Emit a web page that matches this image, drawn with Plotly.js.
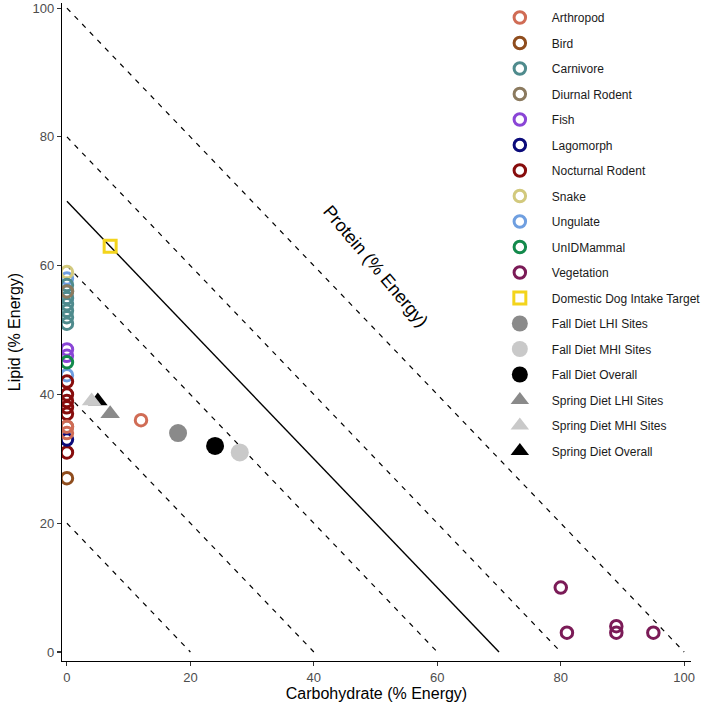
<!DOCTYPE html>
<html>
<head>
<meta charset="utf-8">
<script src="https://cdn.plot.ly/plotly-3.0.1.min.js"></script>
<style>
  html, body { margin: 0; padding: 0; background: #ffffff; }
  #chart { width: 709px; height: 707px; }
</style>
</head>
<body>
<div id="chart"></div>
<script>
// Macronutrient composition (% of energy) of prey groups and coyote diets
const arthropodCarb = [0, 0, 12];
const arthropodLipid = [35, 34, 36];
const birdCarb = [0];
const birdLipid = [27];
const carnivoreCarb = [0, 0, 0, 0, 0, 0, 0];
const carnivoreLipid = [57, 56, 55, 54, 53, 52, 51];
const diurnalRodentCarb = [0, 0];
const diurnalRodentLipid = [56, 35];
const fishCarb = [0, 0];
const fishLipid = [47, 46];
const lagomorphCarb = [0];
const lagomorphLipid = [33];
const nocturnalRodentCarb = [0, 0, 0, 0, 0, 0];
const nocturnalRodentLipid = [42, 40, 39, 38, 37, 31];
const snakeCarb = [0];
const snakeLipid = [59];
const ungulateCarb = [0, 0, 0];
const ungulateLipid = [58, 55, 43];
const unidMammalCarb = [0];
const unidMammalLipid = [45];
const vegetationCarb = [80, 81, 89, 89, 95];
const vegetationLipid = [10, 3, 4, 3, 3];
const dogTargetCarb = [7];
const dogTargetLipid = [63];
const fallLHICarb = [18];
const fallLHILipid = [34];
const fallMHICarb = [28];
const fallMHILipid = [31];
const fallOverallCarb = [24];
const fallOverallLipid = [32];
const springLHICarb = [7];
const springLHILipid = [37];
const springMHICarb = [4];
const springMHILipid = [39];
const springOverallCarb = [5];
const springOverallLipid = [39];

// Iso-protein lines: carbohydrate + lipid = constant
const dashedTotals = [20, 40, 60, 80, 100];
const solidTotal = 70;

const legendNames = [
  'Arthropod', 'Bird', 'Carnivore', 'Diurnal Rodent', 'Fish', 'Lagomorph',
  'Nocturnal Rodent', 'Snake', 'Ungulate', 'UnIDMammal', 'Vegetation',
  'Domestic Dog Intake Target', 'Fall Diet LHI Sites', 'Fall Diet MHI Sites',
  'Fall Diet Overall', 'Spring Diet LHI Sites', 'Spring Diet MHI Sites',
  'Spring Diet Overall'
];

const traces = [];

dashedTotals.forEach(function (t) {
  traces.push({
    x: [0, t], y: [t, 0], mode: 'lines', type: 'scatter',
    line: { color: '#000000', width: 1.2, dash: '5px,6px' },
    showlegend: false, hoverinfo: 'skip'
  });
});
traces.push({
  x: [0, solidTotal], y: [solidTotal, 0], mode: 'lines', type: 'scatter',
  line: { color: '#000000', width: 1.4 },
  showlegend: false, hoverinfo: 'skip'
});

function openCircle(name, x, y, color) {
  return {
    x: x, y: y, name: name, type: 'scatter', mode: 'markers',
    legendrank: legendNames.indexOf(name) + 1,
    legendgroup: name,
    marker: { symbol: 'circle-open', size: 11.5, color: color, line: { width: 3, color: color } }
  };
}
function filled(name, x, y, color, symbol, size) {
  return {
    x: x, y: y, name: name, type: 'scatter', mode: 'markers',
    legendrank: legendNames.indexOf(name) + 1,
    legendgroup: name,
    marker: { symbol: symbol, size: size, color: color, line: { width: 0 } }
  };
}

// drawing order (legend order set by legendrank)
traces.push(openCircle('Ungulate', ungulateCarb, ungulateLipid, '#6f9fe0'));
traces.push(openCircle('Snake', snakeCarb, snakeLipid, '#d2c97d'));
traces.push(openCircle('Carnivore', carnivoreCarb, carnivoreLipid, '#4f8b8d'));
traces.push(openCircle('Diurnal Rodent', diurnalRodentCarb, diurnalRodentLipid, '#8b7a5f'));
traces.push(openCircle('Fish', fishCarb, fishLipid, '#8a45d6'));
traces.push(openCircle('UnIDMammal', unidMammalCarb, unidMammalLipid, '#138a4c'));
traces.push(openCircle('Nocturnal Rodent', nocturnalRodentCarb, nocturnalRodentLipid, '#870d0d'));
traces.push(openCircle('Lagomorph', lagomorphCarb, lagomorphLipid, '#0b0b7a'));
traces.push(openCircle('Arthropod', arthropodCarb, arthropodLipid, '#d06c55'));
traces.push(openCircle('Bird', birdCarb, birdLipid, '#8f4d1e'));
traces.push(openCircle('Vegetation', vegetationCarb, vegetationLipid, '#7b1b57'));
traces.push({
  x: dogTargetCarb, y: dogTargetLipid, name: 'Domestic Dog Intake Target',
  type: 'scatter', mode: 'markers',
  legendrank: legendNames.indexOf('Domestic Dog Intake Target') + 1,
  legendgroup: 'Domestic Dog Intake Target',
  marker: { symbol: 'square-open', size: 12, color: '#f3d41c', line: { width: 3, color: '#f3d41c' } }
});
traces.push(filled('Fall Diet LHI Sites', fallLHICarb, fallLHILipid, '#8a8a8a', 'circle', 18));
traces.push(filled('Fall Diet MHI Sites', fallMHICarb, fallMHILipid, '#c9c9c9', 'circle', 18));
traces.push(filled('Fall Diet Overall', fallOverallCarb, fallOverallLipid, '#000000', 'circle', 18));
traces.push(filled('Spring Diet Overall', springOverallCarb, springOverallLipid, '#000000', 'triangle-up', 17));
traces.push(filled('Spring Diet LHI Sites', springLHICarb, springLHILipid, '#8a8a8a', 'triangle-up', 17));
traces.push(filled('Spring Diet MHI Sites', springMHICarb, springMHILipid, '#c9c9c9', 'triangle-up', 17));

const axisCommon = {
  showgrid: false, zeroline: false, showline: true,
  linecolor: '#000000', linewidth: 1.1,
  ticks: 'outside', ticklen: 4, tickwidth: 1.1, tickcolor: '#333333',
  tickfont: { family: 'Liberation Sans, Arial, sans-serif', size: 13, color: '#4d4d4d' },
  tickvals: [0, 20, 40, 60, 80, 100],
  automargin: false
};

const layout = {
  width: 709, height: 707,
  margin: { l: 62, r: 18, t: 3, b: 46 },
  paper_bgcolor: '#ffffff', plot_bgcolor: '#ffffff',
  font: { family: 'Liberation Sans, Arial, sans-serif', color: '#1a1a1a' },
  xaxis: Object.assign({}, axisCommon, {
    range: [-0.8, 101.1],
    title: { text: 'Carbohydrate (% Energy)', font: { size: 16, color: '#000000' }, standoff: 1 }
  }),
  yaxis: Object.assign({}, axisCommon, {
    range: [-1.4, 100.8],
    title: { text: 'Lipid (% Energy)', font: { size: 16, color: '#000000' }, standoff: 8 }
  }),
  legend: {
    x: 0.677, xanchor: 'left', y: 1.0, yanchor: 'top',
    bgcolor: 'rgba(0,0,0,0)', borderwidth: 0,
    font: { size: 12, color: '#1a1a1a' },
    tracegroupgap: 6.5, itemsizing: 'trace', itemwidth: 54
  },
  annotations: [{
    x: 50, y: 60, xref: 'x', yref: 'y', text: 'Protein (% Energy)',
    showarrow: false, textangle: 50,
    font: { size: 18, color: '#000000' }
  }],
  showlegend: true
};

Plotly.newPlot('chart', traces, layout, { displayModeBar: false, staticPlot: true });
</script>
</body>
</html>
